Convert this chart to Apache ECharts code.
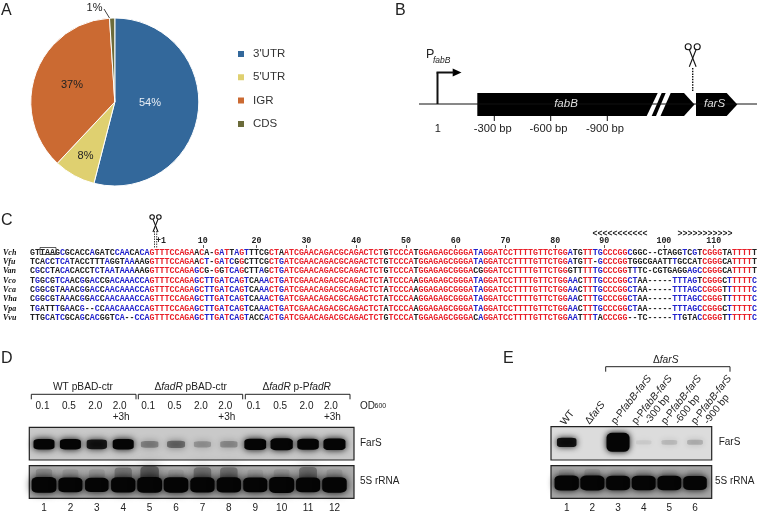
<!DOCTYPE html>
<html>
<head>
<meta charset="utf-8">
<style>html,body{margin:0;background:#fff}#root{width:757px;height:515px}</style>
<script src="https://cdn.jsdelivr.net/npm/echarts@6/dist/echarts.min.js"></script>
</head>
<body>
<div id="root"></div>
<script>
// panel A
const pieNames = ["3'UTR", "5'UTR", 'IGR', 'CDS']
const pieValues = [54, 8, 37, 1]
const pieColors = ['#33689b', '#dfd070', '#cb6a32', '#6b6b3a']

// panel C
const seqNames = ['Vch', 'Vfu', 'Van', 'Vco', 'Vca', 'Vha', 'Vpa', 'Vvu']
const seqs = [
  'GTTAAGCGCACCAGATCCAACACAGTTTCCAGAACA-GATTAGTTTCGCTAATCGAACAGACGCAGACTCTGTCCCATGGAGAGCGGGATAGGATCCTTTTGTTCTGGATGTTTGCCCGGCGGC--CTAGGTCGTCGGGTATTTTT',
  'TCACCTCATACCTTTAGGTAAAAGGTTTCCAGAACT-GATCGGCTTCGCTGATCGAACAGACGCAGACTCTGTCCCATGGAGAGCGGGATAGGATCCTTTTGTTCTGGATGTT-GCCCGGTGGCGAATTTGCCATCGGGCATTTTT',
  'CGCCTACACACCTCTAATAAAAAGGTTTCCAGAGCG-GGTCAGCTTAGCTGATCGAACAGACGCAGACTCTGTCCCATGGAGAGCGGGACGGGATCCTTTTGTTCTGGGTTTTTGCCCGGTTTC-CGTGAGGAGCCGGGCATTTTT',
  'TGGCGTCAACGGACCGACAAACCAGTTTCCAGAGCTTGATCAGTCAAACTGATCGAACAGACGCAGACTCTATCCCAAGGAGAGCGGGATAGGATCCTTTTGTTCTGGAACTTTGCCCGGCTAA-----TTTAGTCGGGCTTTTTC',
  'CGGCGTAAACGGACCAACAAACCAGTTTCCAGAGCTTGATCAGTCAAACTGATCGAACAGACGCAGACTCTATCCCAAGGAGAGCGGGATAGGATCCTTTTGTTCTGGAACTTTGCCCGGCTAA-----TTTAGCCGGGTTTTTTC',
  'CGGCGTAAACGGACCAACAAACCAGTTTCCAGAGCTTGATCAGTCAAACTGATCGAACAGACGCAGACTCTATCCCAAGGAGAGCGGGATAGGATCCTTTTGTTCTGGAACTTTGCCCGGCTAA-----TTTAGCCGGGTTTTTTC',
  'TGATTTGAACG--CCAACAAACCAGTTTCCAGAGCTTGATCAGTCAAACTGATCGAACAGACGCAGACTCTATCCCAAGGAGAGCGGGATAGGATCCTTTTGTTCTGGAACTTTGCCCGGCTAA-----TTTAGCCGGGCTTTTTC',
  'TTGCATCGCAGCACGGTCA--CCAGTTTCCAGAGCTTGATCAGTACCACTGATCGAACAGACGCAGACTCTGTCCCATGGAGAGCGGGACAGGATCCTTTTGTTCTGGAATTTTACCCGG--TC-----TTGTACCGGGTTTTTTC'
]
const rulerLabels = ['10', '20', '30', '40', '50', '60', '70', '80', '90', '100', '110']
const rulerCols = [34.7, 45.5, 55.5, 65.5, 75.5, 85.5, 95.5, 105.5, 115.3, 127.3, 137.3]

// panel D, band strength per lane
const lanesD = [1, 2, 3, 4, 5, 6, 7, 8, 9, 10, 11, 12]
const farsD = [1, 1, 0.85, 1, 0.3, 0.4, 0.22, 0.25, 1.15, 1.25, 1.1, 1.2]
const rrnaD = [1.35, 1.2, 1.1, 1.25, 1.35, 1.3, 1.25, 1.25, 1.2, 1.4, 1.2, 1.3]
const smearD = [0.25, 0.15, 0.15, 0.45, 0.7, 0.1, 0.5, 0.5, 0.1, 0.15, 0.55, 0.15]
const odLabels = ['0.1', '0.5', '2.0', '2.0\n+3h', '0.1', '0.5', '2.0', '2.0\n+3h', '0.1', '0.5', '2.0', '2.0\n+3h']

// panel E
const lanesE = [1, 2, 3, 4, 5, 6]
const farsE = [0.9, 0, 2.5, 0.06, 0.12, 0.16]
const rrnaE = [1.25, 1.2, 1.15, 1.15, 1.15, 1.1]
const smearE = [0.1, 0.15, 0.05, 0.05, 0.05, 0.05]

const sans = '"Liberation Sans", Arial, sans-serif'
const ink = '#222'
const richFont = {
  n: { fontFamily: sans, fontSize: 10.2, fill: ink, color: ink },
  i: { fontFamily: sans, fontSize: 10.2, fontStyle: 'italic', fill: ink, color: ink }
}

const txt = (x, y, text, size, extra) => ({
  type: 'text',
  silent: true,
  z: 100,
  style: Object.assign({
    x, y, text, fill: ink,
    font: `${size || 10}px ${sans}`,
    textAlign: 'center',
    textVerticalAlign: 'middle'
  }, extra || {})
})
const line = (x1, y1, x2, y2, w, extra) => ({
  type: 'line',
  silent: true,
  z: 100,
  shape: { x1, y1, x2, y2 },
  style: Object.assign({ stroke: '#111', lineWidth: w || 1 }, extra || {})
})
const poly = pts => ({
  type: 'polygon',
  silent: true,
  z: 90,
  shape: { points: pts },
  style: { fill: '#000' }
})
const bracket = (x1, x2, y) => ({
  type: 'polyline',
  silent: true,
  z: 100,
  shape: { points: [[x1, y + 5], [x1, y], [x2, y], [x2, y + 5]] },
  style: { stroke: '#222', lineWidth: 1, fill: null }
})
const scissors = (cx, top, s) => [
  { type: 'circle', silent: true, z: 100, shape: { cx: cx - 4.5 * s, cy: top, r: 3 * s }, style: { stroke: '#111', lineWidth: 1.1, fill: null } },
  { type: 'circle', silent: true, z: 100, shape: { cx: cx + 4.5 * s, cy: top, r: 3 * s }, style: { stroke: '#111', lineWidth: 1.1, fill: null } },
  line(cx - 3.4 * s, top + 2.8 * s, cx + 3.4 * s, top + 20 * s, 1.1),
  line(cx + 3.4 * s, top + 2.8 * s, cx - 3.4 * s, top + 20 * s, 1.1)
]

// colours follow the consensus of each column
const colColor = (col, ch) => {
  if (ch === '-') return '#222'
  const same = seqs.filter(s => s[col] === ch).length
  if (same === seqs.length) return '#e8202a'
  return same >= 5 ? '#2222cc' : '#222'
}
const cells = []
seqs.forEach((s, row) => {
  s.split('').forEach((ch, col) => {
    cells.push({ value: [col, row], ch, color: colColor(col, ch) })
  })
})
const seqLen = Math.max(...seqs.map(s => s.length))

const renderLetter = (params, api) => {
  const cell = cells[params.dataIndex]
  const p = api.coord([api.value(0) + 0.5, api.value(1)])
  return {
    type: 'text',
    style: {
      x: p[0], y: p[1], text: cell.ch, fill: cell.color,
      font: 'bold 8.3px "Liberation Mono", monospace',
      textAlign: 'center', textVerticalAlign: 'middle'
    }
  }
}

// band size grows with signal, a saturated band spreads a bit wider
const bands = (lanes, vals, y, w, base, tall, alpha) => lanes.map((lane, i) => ({
  value: [lane, y],
  symbolSize: [w + 5 * Math.min(vals[i], 1.6), base + tall * vals[i]],
  itemStyle: { opacity: Math.min(1, vals[i] * alpha) }
}))
const bandSeries = (idx, data, blur) => ({
  type: 'scatter',
  xAxisIndex: idx,
  yAxisIndex: idx,
  symbol: 'roundRect',
  clip: true,
  silent: true,
  z: 3,
  itemStyle: { color: '#050505', shadowBlur: blur, shadowColor: '#000' },
  data
})

const laneAxis = (idx, min, max, lanes, showLabels) => ({
  type: 'value',
  gridIndex: idx,
  min, max,
  show: true,
  splitLine: { show: false },
  axisLine: { show: false },
  axisTick: { show: false },
  axisLabel: showLabels ? {
    show: true, customValues: lanes, margin: 5,
    fontFamily: sans, fontSize: 10, color: ink
  } : { show: false }
})
const bandAxis = idx => ({
  type: 'value', gridIndex: idx, min: 0, max: 1, show: false, splitLine: { show: false }
})
const blotGrid = (left, right, top, bottom, bg) => ({
  left, top,
  width: right - left,
  height: bottom - top,
  show: true,
  backgroundColor: bg,
  borderColor: '#222',
  borderWidth: 1.2
})

const laneD = n => 44 + (n - 1) * 26.4
const graphics = [
  // panel letters
  txt(1, 11, 'A', 16, { textAlign: 'left' }),
  txt(395, 11, 'B', 16, { textAlign: 'left' }),
  txt(1, 221, 'C', 16, { textAlign: 'left' }),
  txt(1, 359, 'D', 16, { textAlign: 'left' }),
  txt(503, 359, 'E', 16, { textAlign: 'left' }),

  // pie labels
  txt(150, 103, pieValues[0] + '%', 11, { fill: '#e8eef5' }),
  txt(85.5, 156, pieValues[1] + '%', 11),
  txt(72, 85, pieValues[2] + '%', 11),
  txt(94.5, 8, pieValues[3] + '%', 11),
  line(104, 9, 109.5, 18, 0.8),

  // panel B
  line(419, 104, 757, 104, 1),
  line(437.5, 104, 437.5, 72.5, 2),
  line(436.5, 72.5, 454, 72.5, 2),
  poly([[452.7, 68.5], [461.5, 72.5], [452.7, 76.5]]),
  txt(426, 55, 'P', 12.5, { textAlign: 'left' }),
  txt(433, 61, 'fabB', 8.5, { textAlign: 'left', font: `italic 8.5px ${sans}` }),
  poly([[477.3, 93], [657.7, 93], [646.7, 116], [477.3, 116]]),
  poly([[661.7, 93], [665.7, 93], [656, 116], [651.7, 116]]),
  poly([[670.7, 93], [684, 93], [694.5, 104.5], [684, 116], [660.5, 116]]),
  poly([[696, 93], [726.7, 93], [737.3, 104.5], [726.7, 116], [696, 116]]),
  txt(566, 104, 'fabB', 11.5, { fill: '#ddd', font: `italic 11.5px ${sans}` }),
  txt(714.5, 104, 'farS', 11.5, { fill: '#ddd', font: `italic 11.5px ${sans}` }),
  line(494.3, 116, 494.3, 121, 1),
  line(550.7, 116, 550.7, 121, 1),
  line(607.3, 116, 607.3, 121, 1),
  txt(437.7, 129, '1', 11),
  txt(492.7, 129, '-300 bp', 11.2),
  txt(548.5, 129, '-600 bp', 11.2),
  txt(605, 129, '-900 bp', 11.2),
  line(692.7, 68, 692.7, 91, 1.4, { lineDash: [1.5, 1.2] }),
  ...scissors(692.7, 46.7, 1),

  // panel C extras
  ...scissors(155.5, 217, 0.75),
  line(154.5, 231, 154.5, 248, 0.8, { lineDash: [1.5, 1] }),
  line(156.7, 231, 156.7, 248, 0.8, { lineDash: [1.5, 1] }),
  txt(161, 241, '+1', 8.3, { font: 'bold 8.3px "Liberation Mono", monospace' }),
  { type: 'rect', silent: true, z: 100, shape: { x: 40, y: 247.5, width: 16, height: 7 }, style: { stroke: '#333', lineWidth: 0.8, fill: null } },
  txt(620, 234, '<<<<<<<<<<<', 8.3, { font: 'bold 8.3px "Liberation Mono", monospace' }),
  txt(705, 234, '>>>>>>>>>>>', 8.3, { font: 'bold 8.3px "Liberation Mono", monospace' }),

  // panel D headers
  bracket(31.3, 136, 394.3),
  bracket(138.3, 242.7, 394.3),
  bracket(245.3, 350, 394.3),
  txt(83, 387, '{n|WT pBAD-ctr}', 10, { rich: richFont }),
  txt(190.7, 387, '{n|Δ}{i|fadR}{n| pBAD-ctr}', 10, { rich: richFont }),
  txt(296.7, 387, '{n|Δ}{i|fadR}{n| p-P}{i|fadR}', 10, { rich: richFont }),
  txt(360, 406, 'OD', 10, { textAlign: 'left' }),
  txt(374.5, 406.5, '600', 7, { textAlign: 'left' }),
  txt(360, 443, 'FarS', 10, { textAlign: 'left' }),
  txt(360, 481.5, '5S rRNA', 10, { textAlign: 'left' }),

  // panel E headers
  bracket(605.7, 730, 366.7),
  txt(665.7, 360.5, '{n|Δ}{i|farS}', 10, { rich: richFont }),
  txt(718.7, 442, 'FarS', 10, { textAlign: 'left' }),
  txt(715, 481, '5S rRNA', 10, { textAlign: 'left' })
]

// OD row sits a little left of the lane numbers
odLabels.forEach((label, i) => {
  const parts = label.split('\n')
  const x = laneD(i + 1) - 1.5 + (parts[1] ? -2 : 0)
  graphics.push(txt(x, 406, parts[0], 10))
  if (parts[1]) graphics.push(txt(x + 1.5, 417, parts[1], 10))
})

// rotated headers of panel E
const rotE = [
  ['{n|WT}', 562.7, 424],
  ['{n|Δ}{i|farS}', 587.3, 423],
  ['{n|p-P}{i|fabB-farS}', 613.3, 423],
  ['{n|p-P}{i|fabB-farS}', 634, 423],
  ['{n|-300 bp}', 646.7, 423],
  ['{n|p-P}{i|fabB-farS}', 663.3, 423],
  ['{n|-600 bp}', 676.7, 423],
  ['{n|p-P}{i|fabB-farS}', 693.3, 423],
  ['{n|-900 bp}', 706, 423]
]
rotE.forEach(r => {
  graphics.push({
    type: 'text',
    silent: true,
    z: 100,
    x: r[1], y: r[2],
    rotation: 52 * Math.PI / 180,
    style: { x: 0, y: 0, text: r[0], rich: richFont, textAlign: 'left', textVerticalAlign: 'middle', fill: ink }
  })
})

const option = {
  animation: false,
  backgroundColor: '#fff',
  legend: {
    orient: 'vertical',
    left: 236,
    top: 47.5,
    padding: 0,
    icon: 'rect',
    itemWidth: 8,
    itemHeight: 8,
    itemGap: 10.3,
    selectedMode: false,
    data: pieNames,
    textStyle: { fontFamily: sans, fontSize: 11.5, color: '#333', height: 13, lineHeight: 13, padding: [0, 0, 0, 3] }
  },
  grid: [
    { left: 30, top: 248, width: seqLen * 4.98, height: 74.4 },
    blotGrid(29.3, 354, 427.3, 460, '#c9c9c9'),
    blotGrid(29.3, 354, 465.7, 498.3, '#adadad'),
    blotGrid(551, 711.7, 426.7, 460, '#dcdcdc'),
    blotGrid(551, 711.7, 465.7, 498.3, '#a6a6a6')
  ],
  xAxis: [
    {
      type: 'value', gridIndex: 0, min: 0, max: seqLen, position: 'top',
      splitLine: { show: false },
      axisLine: { show: false },
      axisTick: { show: true, customValues: rulerCols, length: 3, lineStyle: { color: '#333', width: 0.8 } },
      axisLabel: {
        show: true, customValues: rulerCols, margin: 3,
        fontFamily: '"Liberation Mono", monospace', fontSize: 8.3, fontWeight: 'bold', color: '#222',
        formatter: v => rulerLabels[rulerCols.indexOf(v)]
      }
    },
    laneAxis(1, 0.443, 12.74, lanesD, false),
    laneAxis(2, 0.443, 12.74, lanesD, true),
    laneAxis(3, 0.388, 6.65, lanesE, false),
    laneAxis(4, 0.388, 6.65, lanesE, true)
  ],
  yAxis: [
    {
      type: 'category', gridIndex: 0, data: seqNames, inverse: true,
      axisLine: { show: false },
      axisTick: { show: false },
      axisLabel: {
        interval: 0, align: 'left', margin: 27,
        fontFamily: '"Liberation Serif", serif', fontStyle: 'italic', fontWeight: 'bold', fontSize: 8, color: '#111'
      }
    },
    bandAxis(1), bandAxis(2), bandAxis(3), bandAxis(4)
  ],
  series: [
    {
      type: 'pie',
      name: 'pie',
      center: [114.8, 102],
      radius: [0, 84],
      startAngle: 90,
      silent: true,
      label: { show: false },
      labelLine: { show: false },
      itemStyle: { borderColor: '#fff', borderWidth: 1 },
      data: pieNames.map((name, i) => ({ name, value: pieValues[i], itemStyle: { color: pieColors[i] } }))
    },
    {
      type: 'custom',
      xAxisIndex: 0,
      yAxisIndex: 0,
      silent: true,
      renderItem: renderLetter,
      encode: { x: 0, y: 1 },
      data: cells.map(c => c.value)
    },
    bandSeries(1, bands(lanesD, farsD, 0.48, 16, 5, 5.5, 1), 7),
    bandSeries(2, bands(lanesD, smearD, 0.74, 15, 8, 12, 0.55), 14),
    bandSeries(2, bands(lanesD, rrnaD, 0.41, 18, 7, 6.5, 1), 8),
    bandSeries(3, bands(lanesE, farsE, 0.53, 15, 4, 6, 1), 6),
    bandSeries(4, bands(lanesE, smearE, 0.75, 15, 8, 12, 0.55), 14),
    bandSeries(4, bands(lanesE, rrnaE, 0.47, 18, 7, 6.5, 1), 7)
  ],
  graphic: { elements: graphics }
}

const myChart = echarts.init(document.getElementById('root'), null, { renderer: 'canvas' })
myChart.setOption(option)
</script>
</body>
</html>
